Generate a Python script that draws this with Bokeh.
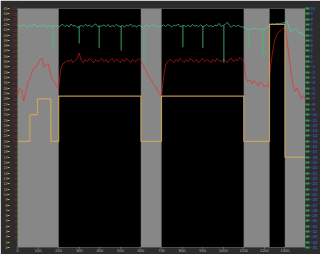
from bokeh.plotting import figure
from bokeh.models import Range1d, LinearAxis, FixedTicker, BoxAnnotation, Label
from bokeh.embed import file_html
from bokeh.resources import INLINE

# ---------------- data ----------------
x_ticks = [0, 100, 200, 300, 400, 500, 600, 700, 800, 900, 1000, 1100, 1200, 1300]
off_starts = [0, 600, 1100, 1300]
off_ends = [200, 700, 1225, 1400]
run_names = ["Run1", "Run2", "Run3"]
run_x = [225, 718, 1225]

x_grid = list(range(0, 1401, 10))

red_vals = [
    143, 150, 148, 138, 146, 155, 159, 165, 169, 170,
    173, 177, 178, 170, 172, 173, 163, 158, 156, 152,
    150, 168, 173, 174, 176, 175, 177, 174, 176, 178,
    183, 176, 174, 177, 175, 178, 176, 174, 177, 175,
    176, 178, 175, 177, 174, 176, 178, 175, 177, 176,
    174, 177, 175, 178, 176, 174, 177, 175, 176, 178,
    176, 172, 168, 165, 160, 158, 154, 152, 148, 145,
    142, 160, 172, 175, 177, 176, 174, 177, 175, 178,
    176, 174, 177, 175, 178, 176, 175, 177, 174, 176,
    178, 175, 177, 176, 174, 177, 175, 178, 176, 175,
    177, 176, 174, 177, 178, 175, 177, 176, 179, 177,
    176, 160, 156, 158, 154, 157, 155, 152, 156, 154,
    151, 153, 151, 170, 184, 195, 200, 203, 204, 206,
    207, 195, 180, 165, 152, 147, 150, 145, 140, 143, 139,
]

green_vals = [
    6.6, 6.9, 6.5, 7.0, 6.7, 6.4, 6.9, 6.6, 7.1, 6.7,
    6.5, 6.9, 6.6, 7.0, 6.4, 6.8, 6.6, 6.7, 6.7, 6.9,
    6.5, 6.8, 7.0, 6.6, 6.9, 6.5, 7.1, 6.7, 6.8, 6.4,
    6.6, 6.8, 6.6, 7.0, 6.7, 6.9, 6.5, 6.8, 7.1, 6.6,
    6.7, 6.7, 6.9, 6.6, 7.0, 6.5, 6.8, 6.6, 7.0, 6.7,
    6.6, 6.8, 6.5, 6.9, 6.7, 7.1, 6.6, 6.8, 6.5, 6.9,
    6.6, 6.4, 6.7, 6.9, 6.5, 6.8, 7.0, 6.6, 6.8, 6.4,
    6.7, 6.9, 6.6, 7.0, 6.8, 6.5, 6.9, 6.7, 7.1, 6.6,
    6.7, 6.8, 6.6, 6.9, 6.5, 7.0, 6.7, 6.8, 6.6, 6.9,
    6.6, 6.7, 7.0, 6.6, 6.8, 6.5, 6.9, 6.7, 7.2, 6.6,
    6.8, 7.0, 7.4, 6.8, 6.5, 6.9, 6.6, 6.8, 6.7, 6.5,
    6.5, 6.2, 6.1, 6.0, 6.3, 6.1, 6.4, 6.0, 6.2, 6.1,
    6.1, 6.4, 6.6, 7.0, 7.1, 7.0, 7.2, 7.1, 7.2, 7.3,
    7.3, 7.6, 6.4, 5.6, 6.0, 6.2, 5.8, 5.3, 5.5, 5.0, 4.9,
]

# narrow downward dips of the green trace
spike_x = [174, 300, 397, 504, 615, 804, 901, 1003, 1124, 1192]
spike_top = [6.7, 6.7, 6.7, 6.7, 6.5, 6.7, 6.7, 6.8, 6.2, 6.2]
spike_bottom = [2.1, 3.4, 2.5, 2.1, -0.2, 2.7, 2.5, -0.2, 3.0, 0.8]

tan_x = [0, 60, 97, 162, 200, 600, 700, 1100, 1225, 1300, 1400]
tan_y = [20, 25, 28, 20, 28.5, 20, 28.5, 20, 42, 17, 17]

red_ticks = list(range(0, 226, 5))
tan_ticks = list(range(0, 46, 1))
green_ticks = list(range(-35, 11, 1))

# ---------------- figure ----------------
p = figure(width=320, height=254, output_backend="svg", toolbar_location=None,
           x_range=Range1d(0, 1400), y_range=Range1d(0, 225),
           min_border_left=16, min_border_right=15, min_border_top=8, min_border_bottom=7)
p.extra_y_ranges = {"tan": Range1d(0, 45), "green": Range1d(-35, 10)}
p.background_fill_color = "black"
p.border_fill_color = "#2c2c2c"
p.outline_line_color = None
p.grid.visible = False

for s, e in zip(off_starts, off_ends):
    p.add_layout(BoxAnnotation(left=s, right=e, fill_color="#878787", fill_alpha=1.0,
                               line_color="#6a6a6a", line_width=1, level="underlay"))

p.line(x_grid, red_vals, line_color="#ff1a1a", line_alpha=0.58, line_width=1)
p.line(x_grid, green_vals, line_color="#50dc98", line_alpha=0.62, line_width=1,
       y_range_name="green")
p.segment(x0=spike_x, y0=spike_top, x1=spike_x, y1=spike_bottom,
          line_color="#40c070", line_alpha=0.7, line_width=1.2, y_range_name="green")
p.step(tan_x, tan_y, mode="after", line_color="#d4aa55", line_alpha=0.85, line_width=1.2,
       y_range_name="tan")

# x axis
xa = p.xaxis[0]
xa.ticker = FixedTicker(ticks=x_ticks)
xa.major_label_text_font_size = "4px"
xa.major_label_text_color = "#a8a8a8"
xa.major_label_standoff = 0
xa.major_tick_out = 1
xa.major_tick_in = 0
xa.minor_tick_line_color = None
xa.major_tick_line_color = "#909090"
xa.axis_line_color = "#505050"

# red (inner left) axis
ra = p.yaxis[0]
ra.ticker = FixedTicker(ticks=red_ticks)
ra.major_label_text_font_size = "3px"
ra.major_label_text_color = "#c01525"
ra.major_label_standoff = 0
ra.major_tick_out = 0
ra.major_tick_in = 0
ra.minor_tick_line_color = None
ra.major_tick_line_color = None
ra.axis_line_color = "#3a6a4a"

# tan (outer left) axis
ta = LinearAxis(y_range_name="tan", ticker=FixedTicker(ticks=tan_ticks))
ta.major_label_text_font_size = "3.5px"
ta.major_label_text_color = "#c8a860"
ta.major_label_standoff = 0
ta.major_tick_out = 2
ta.major_tick_in = 0
ta.major_tick_line_color = "#c8a860"
ta.minor_tick_line_color = None
ta.axis_line_color = None
p.add_layout(ta, "left")

# green (right) axis
ga = LinearAxis(y_range_name="green", ticker=FixedTicker(ticks=green_ticks))
ga.major_label_text_font_size = "4px"
ga.major_label_text_color = "#4a6cff"
ga.major_label_standoff = 1
ga.major_tick_out = 4
ga.major_tick_in = 0
ga.major_tick_line_color = "#2fa048"
ga.major_tick_line_width = 2
ga.minor_tick_line_color = None
ga.axis_line_color = "#3a3a3a"
p.add_layout(ga, "right")

for name, xv in zip(run_names, run_x):
    p.add_layout(Label(x=xv, y=225.5, text=name, text_font_size="4px",
                       text_align="center", text_baseline="bottom",
                       text_color="#202020", background_fill_color="#c4c4c4",
                       background_fill_alpha=1.0))

open("out.html", "w").write(file_html(p, INLINE))
